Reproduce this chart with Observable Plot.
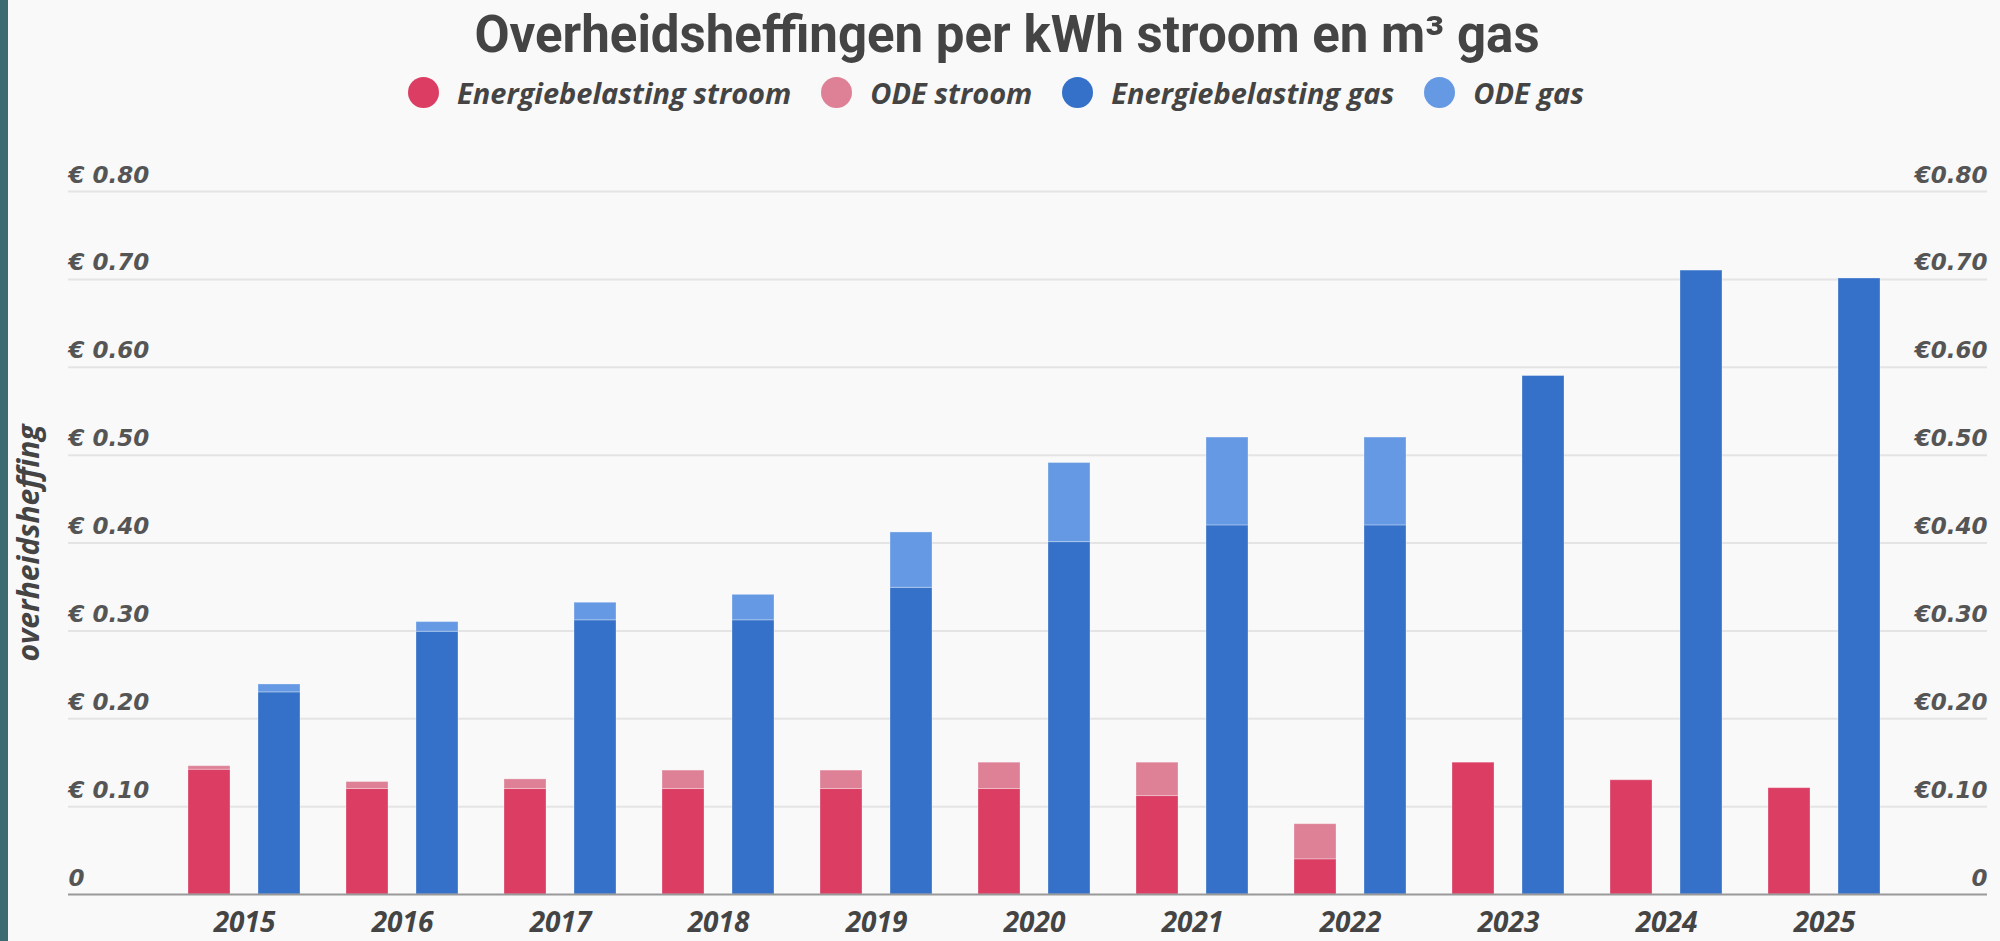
<!DOCTYPE html>
<html>
<head>
<meta charset="utf-8">
<script src="https://cdn.jsdelivr.net/npm/d3@7"></script>
<script src="https://cdn.jsdelivr.net/npm/@observablehq/plot@0.6"></script>
<style>
  html, body { margin: 0; padding: 0; background: #f9f9f9; }
  body { width: 2000px; height: 941px; position: relative; overflow: hidden; }
  #strip { position: absolute; left: 0; top: 0; width: 8px; height: 941px; background: #3d6b72; z-index: 2; }
  #header { position: relative; height: 130px; width: 2000px; }
  #title { position: absolute; top: 5px; left: 0; width: 2014px; text-align: center;
           font-family: Roboto, sans-serif; font-weight: 700; font-size: 51px; line-height: 60px; color: #444; }
  #legend { position: absolute; top: 72px; left: 0; width: 1992px; display: flex; justify-content: center; align-items: center; height: 40px; }
  .item { display: flex; align-items: center; margin: 0 15px; }
  .dot { width: 31px; height: 31px; border-radius: 50%; margin-right: 18px; }
  .lab { font-family: "Open Sans", sans-serif; font-style: italic; font-weight: 700; font-size: 29px; color: #444; }
  #chart svg { display: block; }
</style>
</head>
<body>
<div id="strip"></div>
<div id="header">
  <div id="title"></div>
  <div id="legend"></div>
</div>
<div id="chart"></div>
<script>
const titleText = "Overheidsheffingen per kWh stroom en m³ gas";
const yLabel = "overheidsheffing";
const years = [2015, 2016, 2017, 2018, 2019, 2020, 2021, 2022, 2023, 2024, 2025];
const series = ["Energiebelasting stroom", "ODE stroom", "Energiebelasting gas", "ODE gas"];
const colors = ["#dc3d63", "#de8096", "#3571c9", "#6699e3"];
const ebStroom  = [0.142, 0.120, 0.120, 0.120, 0.120, 0.120, 0.112, 0.040, 0.150, 0.130, 0.121];
const odeStroom = [0.004, 0.008, 0.011, 0.021, 0.021, 0.030, 0.038, 0.040, 0, 0, 0];
const ebGas     = [0.230, 0.299, 0.312, 0.312, 0.349, 0.401, 0.420, 0.420, 0.590, 0.710, 0.701];
const odeGas    = [0.009, 0.011, 0.020, 0.029, 0.063, 0.090, 0.100, 0.100, 0, 0, 0];
const yTicks = [0, 0.1, 0.2, 0.3, 0.4, 0.5, 0.6, 0.7, 0.8];

document.getElementById("title").textContent = titleText;
const legend = document.getElementById("legend");
series.forEach((s, i) => {
  const it = document.createElement("div"); it.className = "item";
  const d = document.createElement("div"); d.className = "dot"; d.style.background = colors[i];
  const l = document.createElement("span"); l.className = "lab"; l.textContent = s;
  it.appendChild(d); it.appendChild(l); legend.appendChild(it);
});

const stroomRows = years.flatMap((y, i) => [
  {year: y, type: series[0], value: ebStroom[i]},
  {year: y, type: series[1], value: odeStroom[i]}
]);
const gasRows = years.flatMap((y, i) => [
  {year: y, type: series[2], value: ebGas[i]},
  {year: y, type: series[3], value: odeGas[i]}
]);

const tickFont = {fontFamily: "DejaVu Sans", fontWeight: "bold", fontStyle: "italic", fontSize: 23, fill: "#555"};

const chart = Plot.plot({
  width: 2000,
  height: 811,
  marginTop: 61,
  marginBottom: 47,
  marginLeft: 68,
  marginRight: 13,
  style: {background: "transparent", color: "#444"},
  x: {type: "band", domain: years, range: [165, 1903], padding: 0},
  y: {domain: [0, 0.8]},
  color: {domain: series, range: colors},
  marks: [
    Plot.ruleY(yTicks.filter(d => d > 0), {stroke: "#e4e4e4", strokeWidth: 2}),
    Plot.barY(stroomRows, {x: "year", y: "value", fill: "type", insetLeft: 23, insetRight: 93, stroke: "#fff", strokeOpacity: 0.3, strokeWidth: 1}),
    Plot.barY(gasRows, {x: "year", y: "value", fill: "type", insetLeft: 93, insetRight: 23, stroke: "#fff", strokeOpacity: 0.3, strokeWidth: 1}),
    Plot.ruleY([0], {stroke: "#999", strokeWidth: 2}),
    Plot.axisY({anchor: "left", ticks: yTicks, tickSize: 0, tickPadding: 0, textAnchor: "start", lineAnchor: "bottom", dy: -9, label: null,
      tickFormat: d => d === 0 ? "0" : "€ " + d.toFixed(2), ...tickFont}),
    Plot.axisY({anchor: "right", ticks: yTicks, tickSize: 0, tickPadding: 0, textAnchor: "end", lineAnchor: "bottom", dy: -9, label: null,
      tickFormat: d => d === 0 ? "0" : "€" + d.toFixed(2), ...tickFont}),
    Plot.axisX({anchor: "bottom", tickSize: 0, tickPadding: 18, label: null, tickFormat: d => String(d),
      fontFamily: "Open Sans", fontWeight: "bold", fontStyle: "italic", fontSize: 28, fill: "#444"}),
    Plot.text([yLabel], {frameAnchor: "left", rotate: -90, dx: -39, textAnchor: "middle", text: d => d,
      fontFamily: "Open Sans", fontWeight: "bold", fontStyle: "italic", fontSize: 30, fill: "#444"})
  ]
});
document.getElementById("chart").appendChild(chart);
</script>
</body>
</html>
